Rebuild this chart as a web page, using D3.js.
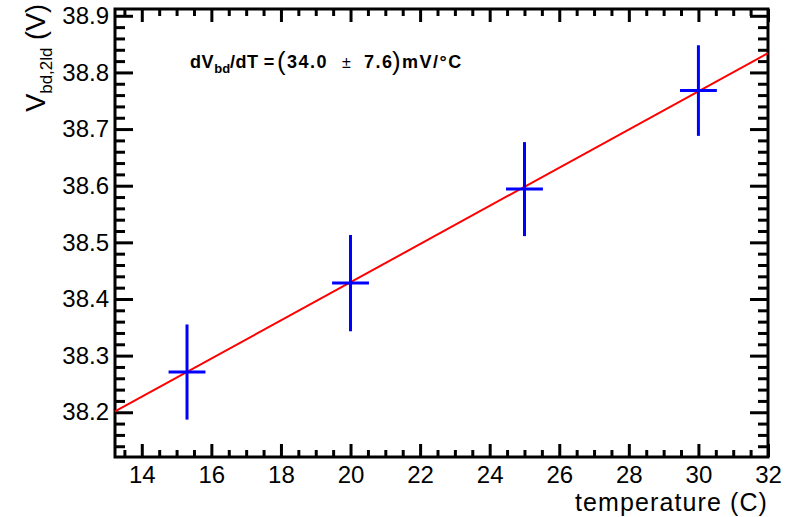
<!DOCTYPE html>
<html>
<head>
<meta charset="utf-8">
<script src="https://cdn.jsdelivr.net/npm/d3@7"></script>
<style>
  body { margin: 0; background: #fff; }
  svg { font-family: "Liberation Sans", Arial, Helvetica, sans-serif; }
</style>
</head>
<body>
<script>
var w = 788;
var h = 517;

// measured data (temperature vs breakdown voltage)
var temps = [15.3, 20.0, 25.0, 30.0];
var tempErr = [0.53, 0.53, 0.53, 0.53];
var vbd = [38.271, 38.428, 38.594, 38.768];
var vbdErr = [0.084, 0.085, 0.083, 0.080];

// linear fit
var fitSlope = 0.0337;
var fitIntercept = 37.7556;

var xMajor = [14, 16, 18, 20, 22, 24, 26, 28, 30, 32];
var yMajor = [38.2, 38.3, 38.4, 38.5, 38.6, 38.7, 38.8, 38.9];

var margin = {left: 115, right: 20, top: 9, bottom: 60};

var x = d3.scaleLinear().domain([13.23, 32]).range([margin.left, w - margin.right]);
var y = d3.scaleLinear().domain([38.121, 38.912]).range([h - margin.bottom, margin.top]);

var xMinor = d3.range(13.5, 32.01, 0.5).filter(function (v) { return Math.abs(v / 2 - Math.round(v / 2)) > 0.01; });
var yMinor = d3.range(38.14, 38.911, 0.02).filter(function (v) { return Math.abs(v * 10 - Math.round(v * 10)) > 0.01; });

var svg = d3.select("body").append("svg").attr("width", w).attr("height", h);

var x0 = x.range()[0], x1 = x.range()[1];
var y0 = y.range()[0], y1 = y.range()[1];

function styleAxis(g) {
    g.selectAll(".domain").remove();
    g.selectAll(".tick line").attr("stroke", "#000").attr("stroke-width", 3);
    g.selectAll(".tick text").attr("fill", "#000").attr("font-size", 24);
}

// bottom axis
svg.append("g").attr("transform", "translate(0," + y0 + ")")
    .call(d3.axisBottom(x).tickValues(xMajor).tickSize(-13).tickSizeOuter(0).tickPadding(9).tickFormat(d3.format("d")))
    .call(styleAxis);
svg.append("g").attr("transform", "translate(0," + y0 + ")")
    .call(d3.axisBottom(x).tickValues(xMinor).tickSize(-7).tickFormat(""))
    .call(styleAxis);
// top axis
svg.append("g").attr("transform", "translate(0," + y1 + ")")
    .call(d3.axisTop(x).tickValues(xMajor).tickSize(-13).tickFormat(""))
    .call(styleAxis);
svg.append("g").attr("transform", "translate(0," + y1 + ")")
    .call(d3.axisTop(x).tickValues(xMinor).tickSize(-7).tickFormat(""))
    .call(styleAxis);
// left axis
svg.append("g").attr("transform", "translate(" + x0 + ",0)")
    .call(d3.axisLeft(y).tickValues(yMajor).tickSize(-18).tickPadding(6).tickFormat(d3.format(".1f")))
    .call(styleAxis);
svg.append("g").attr("transform", "translate(" + x0 + ",0)")
    .call(d3.axisLeft(y).tickValues(yMinor).tickSize(-10).tickFormat(""))
    .call(styleAxis);
// right axis
svg.append("g").attr("transform", "translate(" + x1 + ",0)")
    .call(d3.axisRight(y).tickValues(yMajor).tickSize(-18).tickFormat(""))
    .call(styleAxis);
svg.append("g").attr("transform", "translate(" + x1 + ",0)")
    .call(d3.axisRight(y).tickValues(yMinor).tickSize(-10).tickFormat(""))
    .call(styleAxis);

// frame
svg.append("rect")
    .attr("x", x0).attr("y", y1)
    .attr("width", x1 - x0).attr("height", y0 - y1)
    .attr("fill", "none").attr("stroke", "#000").attr("stroke-width", 3);

// fit line
var xd = x.domain();
svg.append("line")
    .attr("x1", x(xd[0])).attr("y1", y(fitIntercept + fitSlope * xd[0]))
    .attr("x2", x(xd[1])).attr("y2", y(fitIntercept + fitSlope * xd[1]))
    .attr("stroke", "#ff0000").attr("stroke-width", 2);

// error bars
var pts = svg.selectAll("g.pt")
    .data(temps.map(function (t, i) { return {t: t, te: tempErr[i], v: vbd[i], ve: vbdErr[i]}; }))
    .enter().append("g").attr("class", "pt");

pts.append("line")
    .attr("x1", function (d) { return x(d.t); }).attr("x2", function (d) { return x(d.t); })
    .attr("y1", function (d) { return y(d.v - d.ve); }).attr("y2", function (d) { return y(d.v + d.ve); })
    .attr("stroke", "#0000ff").attr("stroke-width", 3);
pts.append("line")
    .attr("x1", function (d) { return x(d.t - d.te); }).attr("x2", function (d) { return x(d.t + d.te); })
    .attr("y1", function (d) { return y(d.v); }).attr("y2", function (d) { return y(d.v); })
    .attr("stroke", "#0000ff").attr("stroke-width", 3);

// axis titles
svg.append("text")
    .attr("x", x1).attr("y", 511)
    .attr("text-anchor", "end").attr("font-size", 25).attr("letter-spacing", 1.1)
    .text("temperature (C)");

var yt = svg.append("text")
    .attr("transform", "translate(45,4) rotate(-90)")
    .attr("text-anchor", "end").attr("font-size", 27);
yt.append("tspan").text("V");
yt.append("tspan").attr("font-size", 17).attr("dy", 7).text("bd,2ld");
yt.append("tspan").attr("dy", -7).text("  (V)");

// fit result
var ft = svg.append("text")
    .attr("y", 68)
    .attr("font-size", 18).attr("font-weight", "bold").attr("letter-spacing", 1.5);
ft.append("tspan").attr("x", 190).attr("letter-spacing", 0.6).text("dV");
ft.append("tspan").attr("font-size", 13).attr("letter-spacing", 0).attr("dy", 5).text("bd");
ft.append("tspan").attr("dy", -5).attr("letter-spacing", 0.4).text("/dT =");
ft.append("tspan").attr("x", 277).attr("font-size", 26).attr("font-weight", "normal").attr("letter-spacing", 0).attr("dy", 2).text("(");
ft.append("tspan").attr("x", 287).attr("dy", -2).text("34.0");
ft.append("tspan").attr("x", 342).attr("font-weight", "normal").attr("font-size", 16).text("±");
ft.append("tspan").attr("x", 364).text("7.6");
ft.append("tspan").attr("x", 392).attr("font-size", 26).attr("font-weight", "normal").attr("letter-spacing", 0).attr("dy", 2).text(")");
ft.append("tspan").attr("x", 402).attr("dy", -2).text("mV/°C");
</script>
</body>
</html>
